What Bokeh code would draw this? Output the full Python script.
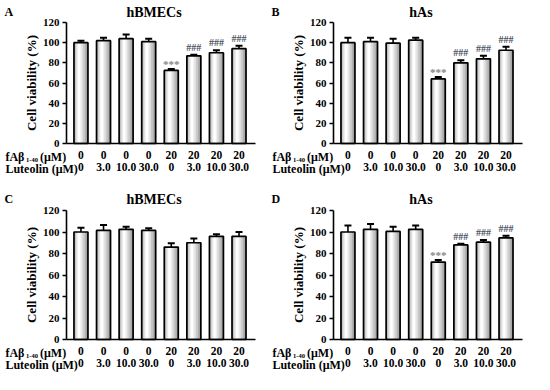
from bokeh.plotting import figure
from bokeh.models import Whisker, ColumnDataSource, Label, LinearAxis, FixedTicker, Range1d
from bokeh.transform import dodge
from bokeh.layouts import column, row
from bokeh.embed import file_html
from bokeh.resources import INLINE

# ---------------- data ----------------
groups = [1, 2, 3, 4, 5, 6, 7, 8]
fab_labels = ["0", "0", "0", "0", "20", "20", "20", "20"]
lut_labels = ["0", "3.0", "10.0", "30.0", "0", "3.0", "10.0", "30.0"]
y_ticks = [0, 20, 40, 60, 80, 100, 120]

a_title = "hBMECs"
a_mean = [100, 102, 104, 101, 72.5, 87, 90, 94]
a_sd = [2, 3, 4, 3, 1.5, 1, 2.5, 3]
a_star = ["", "", "", "", "***", "", "", ""]
a_hash = ["", "", "", "", "", "###", "###", "###"]

b_title = "hAs"
b_mean = [100, 101, 99.5, 102.5, 64, 80, 84, 92.5]
b_sd = [5, 4, 4.5, 2.5, 2, 2.5, 3, 3.5]
b_star = ["", "", "", "", "***", "", "", ""]
b_hash = ["", "", "", "", "", "###", "###", "###"]

c_title = "hBMECs"
c_mean = [100, 101.5, 102.5, 101.5, 86, 90, 96, 96]
c_sd = [4, 5, 2.5, 2, 3.5, 4, 2, 4]
c_star = ["", "", "", "", "", "", "", ""]
c_hash = ["", "", "", "", "", "", "", ""]

d_title = "hAs"
d_mean = [100, 102.5, 100.5, 102.5, 72, 88, 90.5, 94.5]
d_sd = [6, 5, 4.5, 3.5, 2, 1, 2, 2]
d_star = ["", "", "", "", "***", "", "", ""]
d_hash = ["", "", "", "", "", "###", "###", "###"]

# ---------------- layout ----------------
FONT = "Liberation Serif"
W = 267
X0, X1 = 0.36, 8.73
Y0, Y1 = 0, 120


def make_panel(letter, title, mean, sd, star, hsh, H, fl, fr, ft, fb, row1_off, row2_off):
    kx = (fr - fl) / (X1 - X0)
    ky = (fb - ft) / (Y1 - Y0)

    def dx(px):
        return X0 + (px - fl) / kx

    def dy(py):
        return Y0 + (fb - py) / ky

    p = figure(width=W, height=H, x_range=Range1d(dx(0), dx(W)), y_range=Range1d(dy(H), dy(0)),
               output_backend="svg", toolbar_location=None, x_axis_location=None,
               y_axis_location=None, min_border=0)
    p.outline_line_color = None
    p.xgrid.visible = False
    p.ygrid.visible = False
    p.background_fill_color = "white"
    p.border_fill_color = "white"

    upper = [m + s for m, s in zip(mean, sd)]
    lower = [m - s for m, s in zip(mean, sd)]
    src = ColumnDataSource(dict(x=groups, top=mean, upper=upper, lower=lower,
                                star=star, hsh=hsh))

    # cylinder-like shaded bars (highlight a little left of centre)
    shades = [(0.62, "#979797", 0.0), (0.54, "#b0b0b0", -0.02), (0.44, "#c8c8c8", -0.04),
              (0.32, "#dedede", -0.06), (0.20, "#f0f0f0", -0.07), (0.10, "#ffffff", -0.08)]
    for w, c, off in shades:
        p.vbar(x=dodge("x", off, range=p.x_range), top="top", bottom=0, width=w,
               source=src, fill_color=c, line_color=None)
    p.vbar(x="x", top="top", bottom=0, width=0.62, source=src, fill_color=None,
           line_color="black", line_width=1.7)

    wh = Whisker(base="x", upper="upper", lower="lower", source=src,
                 line_color="black", line_width=1.6)
    wh.upper_head.size = 7
    wh.lower_head.size = 7
    wh.upper_head.line_width = 2
    wh.lower_head.line_width = 2
    p.add_layout(wh)

    p.text(x="x", y="upper", text="star", source=src, text_align="center",
           text_baseline="bottom", y_offset=1, text_color="#858585",
           text_font=FONT, text_font_size="11px", text_font_style="bold")
    p.text(x="x", y="upper", text="hsh", source=src, text_align="center",
           text_baseline="bottom", y_offset=-2, text_color="#4c5262",
           text_font=FONT, text_font_size="10px", text_font_style="bold")

    # y axis, pinned to the left edge of the data area
    ya = LinearAxis(ticker=FixedTicker(ticks=y_ticks), bounds=(Y0, Y1), fixed_location=X0)
    ya.axis_line_width = 1.6
    ya.major_tick_line_width = 1.6
    ya.major_tick_out = 4
    ya.major_tick_in = 0
    ya.minor_tick_line_color = None
    ya.major_label_standoff = 3
    ya.major_label_text_font = FONT
    ya.major_label_text_font_style = "bold"
    ya.major_label_text_font_size = "11px"
    ya.major_label_text_color = "black"
    ya.axis_label = "Cell viability (%)"
    ya.axis_label_text_font = FONT
    ya.axis_label_text_font_style = "bold"
    ya.axis_label_text_font_size = "13px"
    ya.axis_label_standoff = 1
    ya.axis_label_text_color = "black"
    p.add_layout(ya, "left")

    # two rows of condition labels as x axes pinned at y = 0
    ax1 = LinearAxis(ticker=FixedTicker(ticks=groups), bounds=(X0, X1), fixed_location=Y0,
                     major_label_overrides={g: s for g, s in zip(groups, fab_labels)})
    ax2 = LinearAxis(ticker=FixedTicker(ticks=groups), bounds=(X0, X1), fixed_location=Y0,
                     major_label_overrides={g: s for g, s in zip(groups, lut_labels)})
    for ax in (ax1, ax2):
        ax.major_tick_out = 0
        ax.major_tick_in = 0
        ax.major_tick_line_color = None
        ax.minor_tick_line_color = None
        ax.major_label_text_font = FONT
        ax.major_label_text_font_style = "bold"
        ax.major_label_text_font_size = "11.5px"
        ax.major_label_text_color = "black"
    ax1.axis_line_width = 1.6
    ax1.major_label_standoff = row1_off
    ax2.axis_line_color = None
    ax2.major_label_standoff = row2_off
    p.add_layout(ax1, "below")
    p.add_layout(ax2, "below")

    def lab(txt, px, py, size, align="left", color="black"):
        p.add_layout(Label(x=dx(px), y=dy(py), text=txt, text_font=FONT,
                           text_font_style="bold", text_font_size=size,
                           text_align=align, text_baseline="middle",
                           text_color=color))

    r1 = fb + row1_off + 6.5
    r2 = fb + row2_off + 6.5
    lab(letter, 4, 11.5, "12px")
    lab(title, 153.5, 11.5, "14px", align="center")
    lab("fA\u03b2", 4.9, r1, "12px")
    lab("1-40", 25.5, r1 + 2.5, "6.5px")
    lab("(\u03bcM)", 39.5, r1, "12px")
    lab("Luteolin (\u03bcM)", 4.9, r2, "12px")
    return p


pA = make_panel("A", a_title, a_mean, a_sd, a_star, a_hash, 187, 66, 255, 22, 143, 7, 19)
pB = make_panel("B", b_title, b_mean, b_sd, b_star, b_hash, 187, 66, 255, 22, 143, 7, 19)
pC = make_panel("C", c_title, c_mean, c_sd, c_star, c_hash, 187, 66, 255, 23, 152, 7, 19)
pD = make_panel("D", d_title, d_mean, d_sd, d_star, d_hash, 187, 66, 255, 23, 152, 7, 19)

layout = column(row(pA, pB), row(pC, pD))
open("out.html", "w").write(file_html(layout, INLINE))
